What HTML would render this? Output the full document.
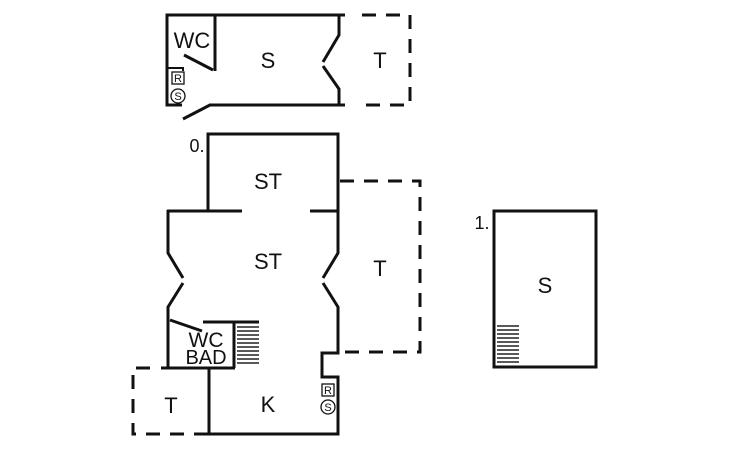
<!DOCTYPE html>
<html><head><style>
html,body{margin:0;padding:0;background:#fff;width:730px;height:450px;overflow:hidden}
text{font-family:"Liberation Sans","DejaVu Sans",sans-serif;fill:#111}
</style></head><body>
<svg width="730" height="450" viewBox="0 0 730 450" xmlns="http://www.w3.org/2000/svg">
<g stroke="#111" stroke-width="3" fill="none" stroke-linecap="butt" stroke-linejoin="miter">
<polyline points="182,105 167,105 167,15 345,15"/>
<polyline points="339,15 339,35 323,62"/>
<polyline points="323,66 339,89 339,105"/>
<line x1="209" y1="105" x2="345" y2="105"/>
<line x1="210" y1="105" x2="183" y2="119"/>
<line x1="215" y1="15" x2="215" y2="71"/>
<line x1="184" y1="55" x2="213" y2="70"/>
<polyline points="167,68 183,68 183,71" stroke-width="2"/>
<g stroke-dasharray="14,10">
<polyline points="362,15 410,15 410,105 362,105"/>
</g>
<polyline points="208,210 208,134 338,134 338,210"/>
<line x1="167" y1="211" x2="242" y2="211"/>
<line x1="310" y1="211" x2="339" y2="211"/>
<polyline points="168,210 168,253 183,278"/>
<polyline points="183,283 168,307 168,368"/>
<polyline points="338,210 338,253 323,278"/>
<polyline points="323,283 338,307 338,353 322,353 322,377 338,377 338,434 208,434"/>
<line x1="209" y1="368" x2="209" y2="434"/>
<line x1="161" y1="368" x2="235" y2="368"/>
<line x1="234" y1="322" x2="234" y2="368"/>
<line x1="203" y1="322" x2="259" y2="322"/>
<line x1="170" y1="320" x2="202" y2="331"/>
<g stroke-dasharray="14,10">
<polyline points="340,181 420,181 420,352 340,352"/>
<polyline points="150,368 133,368 133,434 209,434"/>
</g>
<rect x="494" y="211" width="102" height="156"/>
</g>
<g stroke="#222" stroke-width="1.6">
<line x1="237" y1="327" x2="259" y2="327"/><line x1="237" y1="331" x2="259" y2="331"/>
<line x1="237" y1="335" x2="259" y2="335"/><line x1="237" y1="339" x2="259" y2="339"/>
<line x1="237" y1="343" x2="259" y2="343"/><line x1="237" y1="347" x2="259" y2="347"/>
<line x1="237" y1="351" x2="259" y2="351"/><line x1="237" y1="355" x2="259" y2="355"/>
<line x1="237" y1="359" x2="259" y2="359"/><line x1="237" y1="363" x2="259" y2="363"/>
<line x1="497" y1="326" x2="519" y2="326"/><line x1="497" y1="330" x2="519" y2="330"/>
<line x1="497" y1="334" x2="519" y2="334"/><line x1="497" y1="338" x2="519" y2="338"/>
<line x1="497" y1="342" x2="519" y2="342"/><line x1="497" y1="346" x2="519" y2="346"/>
<line x1="497" y1="350" x2="519" y2="350"/><line x1="497" y1="354" x2="519" y2="354"/>
<line x1="497" y1="358" x2="519" y2="358"/><line x1="497" y1="362" x2="519" y2="362"/>
</g>
<g stroke="#111" stroke-width="1.3" fill="none">
<rect x="172" y="72" width="12" height="12"/><circle cx="178" cy="96" r="7"/>
<rect x="322" y="384" width="12" height="12"/><circle cx="328" cy="407" r="7"/>
</g>
<g font-size="11" text-anchor="middle">
<text x="178" y="82">R</text><text x="178" y="100">S</text>
<text x="328" y="394">R</text><text x="328" y="411">S</text>
</g>
<g font-size="22" text-anchor="middle">
<text x="192" y="48">WC</text>
<text x="268" y="68">S</text>
<text x="380" y="68">T</text>
<text x="268" y="189">ST</text>
<text x="268" y="269">ST</text>
<text x="380" y="276">T</text>
<text x="206" y="347" font-size="21">WC</text>
<text x="206" y="364" font-size="20">BAD</text>
<text x="268" y="412">K</text>
<text x="171" y="413">T</text>
<text x="545" y="293">S</text>
<text x="197" y="152" font-size="18">0.</text>
<text x="482" y="229" font-size="18">1.</text>
</g>
</svg>
</body></html>
